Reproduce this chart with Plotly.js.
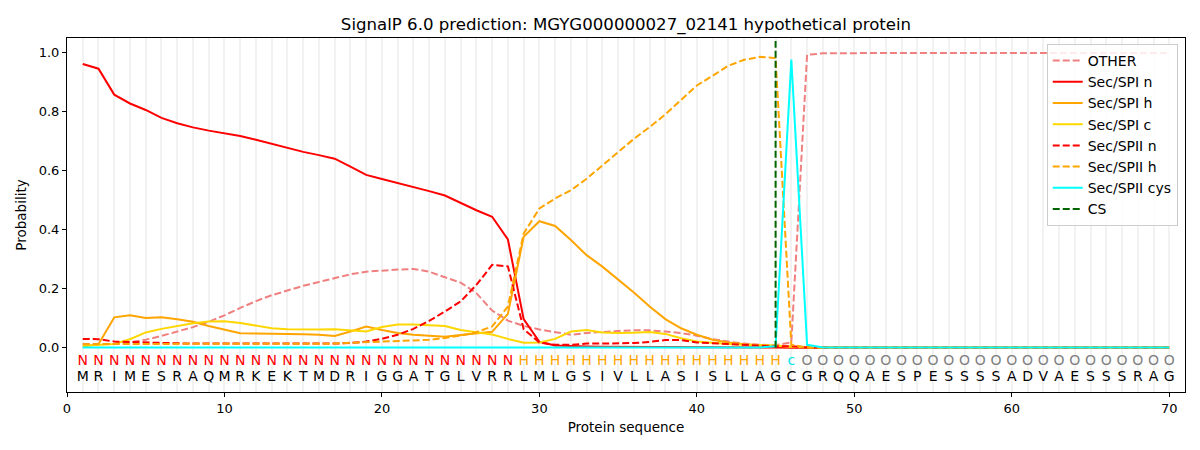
<!DOCTYPE html>
<html>
<head>
<meta charset="utf-8">
<script src="https://cdn.plot.ly/plotly-3.0.1.min.js"></script>
<style>html,body{margin:0;padding:0;background:#fff;}#chart{width:1200px;height:450px;}</style>
</head>
<body>
<div id="chart"></div>
<script>
const sequence = "MRIMESRAQMRKEKTMDRIGGATGLVRRLMLGSIVLLASISLLAGCGRQQAESPESSSSADVAESSSRAG".split("");
const regionLabels = ("NNNNNNNNNNNNNNNNNNNNNNNNNNNN" + "HHHHHHHHHHHHHHHHH" + "c" + "OOOOOOOOOOOOOOOOOOOOOOOO").split("");
const positions = sequence.map((_, i) => i + 1);

const other = [0.013,0.013,0.013,0.019,0.027,0.040,0.055,0.070,0.088,0.110,
  0.135,0.158,0.178,0.195,0.210,0.223,0.237,0.249,0.258,0.262,
  0.265,0.267,0.258,0.239,0.221,0.185,0.126,0.092,0.074,0.062,
  0.052,0.044,0.050,0.054,0.057,0.059,0.059,0.055,0.050,0.041,
  0.029,0.021,0.014,0.010,0.009,0.018,0.993,0.998,0.999,0.999,
  0.999,0.999,0.999,0.999,0.999,0.999,0.999,0.999,0.999,0.999,
  0.999,0.999,0.999,0.999,0.999,0.999,0.999,0.999,0.999,0.999];
const spiN = [0.962,0.946,0.858,0.828,0.806,0.779,0.761,0.747,0.736,0.727,
  0.718,0.705,0.691,0.678,0.664,0.653,0.641,0.614,0.586,0.572,
  0.559,0.545,0.531,0.516,0.491,0.466,0.444,0.367,0.097,0.020,
  0.008,0.005,0.004,0.003,0.003,0.003,0.002,0.002,0.002,0.002,
  0.001,0.001,0.001,0.001,0.001,0.000,0.000,0.000,0.000,0.000,
  0.000,0.000,0.000,0.000,0.000,0.000,0.000,0.000,0.000,0.000,
  0.000,0.000,0.000,0.000,0.000,0.000,0.000,0.000,0.000,0.000];
const spiH = [0.003,0.012,0.103,0.110,0.101,0.103,0.097,0.088,0.074,0.062,
  0.049,0.048,0.048,0.047,0.046,0.044,0.040,0.055,0.072,0.060,
  0.050,0.044,0.040,0.037,0.043,0.049,0.054,0.115,0.376,0.429,
  0.413,0.365,0.314,0.275,0.232,0.187,0.140,0.097,0.066,0.044,
  0.027,0.018,0.012,0.009,0.007,0.004,0.001,0.001,0.001,0.001,
  0.001,0.001,0.001,0.001,0.001,0.001,0.001,0.001,0.001,0.001,
  0.001,0.001,0.001,0.001,0.001,0.001,0.001,0.001,0.001,0.001];
const spiC = [0.007,0.010,0.013,0.029,0.052,0.064,0.074,0.083,0.089,0.090,
  0.084,0.074,0.066,0.063,0.062,0.062,0.063,0.058,0.055,0.070,
  0.079,0.079,0.077,0.074,0.060,0.053,0.045,0.030,0.017,0.018,
  0.030,0.055,0.060,0.052,0.050,0.051,0.053,0.047,0.032,0.021,
  0.016,0.013,0.010,0.009,0.008,0.003,0.001,0.001,0.001,0.001,
  0.001,0.001,0.001,0.001,0.001,0.001,0.001,0.001,0.001,0.001,
  0.001,0.001,0.001,0.001,0.001,0.001,0.001,0.001,0.001,0.001];
const spiiN = [0.030,0.029,0.021,0.019,0.018,0.016,0.015,0.014,0.014,0.013,
  0.013,0.013,0.013,0.013,0.013,0.013,0.014,0.016,0.021,0.030,
  0.044,0.064,0.091,0.123,0.157,0.213,0.281,0.276,0.063,0.018,
  0.010,0.010,0.014,0.014,0.014,0.016,0.020,0.026,0.026,0.018,
  0.015,0.012,0.009,0.006,0.005,0.005,0.001,0.001,0.001,0.001,
  0.001,0.001,0.001,0.001,0.001,0.001,0.001,0.001,0.001,0.001,
  0.001,0.001,0.001,0.001,0.001,0.001,0.001,0.001,0.001,0.001];
const spiiH = [0.012,0.013,0.013,0.013,0.013,0.013,0.013,0.013,0.013,0.013,
  0.013,0.013,0.013,0.013,0.013,0.013,0.014,0.017,0.019,0.021,
  0.023,0.024,0.027,0.033,0.041,0.053,0.072,0.140,0.387,0.472,
  0.506,0.534,0.573,0.618,0.663,0.708,0.748,0.791,0.840,0.889,
  0.922,0.956,0.976,0.986,0.982,0.010,0.001,0.001,0.001,0.001,
  0.001,0.001,0.001,0.001,0.001,0.001,0.001,0.001,0.001,0.001,
  0.001,0.001,0.001,0.001,0.001,0.001,0.001,0.001,0.001,0.001];
const spiiCys = [0.001,0.001,0.001,0.001,0.001,0.001,0.001,0.001,0.001,0.001,
  0.001,0.001,0.001,0.001,0.001,0.001,0.001,0.001,0.001,0.001,
  0.001,0.001,0.001,0.001,0.001,0.001,0.001,0.001,0.001,0.001,
  0.001,0.001,0.001,0.001,0.001,0.001,0.001,0.001,0.001,0.001,
  0.001,0.001,0.001,0.001,0.005,0.977,0.010,0.001,0.001,0.001,
  0.001,0.001,0.001,0.001,0.001,0.001,0.001,0.001,0.001,0.001,
  0.001,0.001,0.001,0.001,0.001,0.001,0.001,0.001,0.001,0.001];
const csPosition = 45;
const csExtent = [0, 1.04];

const labelColors = {N: '#ff0000', H: '#ffa500', c: '#00e5ee', O: '#808080'};
const DASH = '7px,3px';
const FONT = 'DejaVu Sans, sans-serif';

function line(name, y, color, dash) {
  return {x: positions, y: y, name: name, type: 'scatter', mode: 'lines',
    line: {color: color, width: 2, dash: dash || 'solid'}, hoverinfo: 'skip'};
}

const traces = [
  line('OTHER', other, '#f08080', DASH),
  line('Sec/SPI n', spiN, '#ff0000'),
  line('Sec/SPI h', spiH, '#ffa500'),
  line('Sec/SPI c', spiC, '#ffd700'),
  line('Sec/SPII n', spiiN, '#ff0000', DASH),
  line('Sec/SPII h', spiiH, '#ffa500', DASH),
  line('Sec/SPII cys', spiiCys, '#00ffff'),
  {x: [csPosition, csPosition], y: csExtent, name: 'CS', type: 'scatter', mode: 'lines',
    line: {color: '#006400', width: 2, dash: DASH}, hoverinfo: 'skip'},
  {x: positions, y: positions.map(() => -0.045), text: regionLabels, mode: 'text', type: 'scatter',
    textfont: {family: FONT, size: 14, color: regionLabels.map(l => labelColors[l])},
    showlegend: false, hoverinfo: 'skip', cliponaxis: false},
  {x: positions, y: positions.map(() => -0.1), text: sequence, mode: 'text', type: 'scatter',
    textfont: {family: FONT, size: 14, color: '#000000'},
    showlegend: false, hoverinfo: 'skip', cliponaxis: false}
];

const layout = {
  width: 1200, height: 450,
  margin: {l: 67, r: 15, t: 38, b: 58},
  paper_bgcolor: '#ffffff', plot_bgcolor: '#ffffff',
  font: {family: FONT, size: 13, color: '#000000'},
  title: {text: 'SignalP 6.0 prediction: MGYG000000027_02141 hypothetical protein',
    font: {family: FONT, size: 16.6, color: '#000000'},
    x: 0.5, xref: 'paper', xanchor: 'center', y: 0.946, yref: 'container', yanchor: 'middle'},
  xaxis: {range: [0, 71], tickmode: 'array', tickvals: [0,10,20,30,40,50,60,70],
    ticks: 'outside', ticklen: 4, tickcolor: '#000', showline: true, mirror: true,
    linecolor: '#000', linewidth: 1, zeroline: false,
    showgrid: true, gridcolor: '#f2f2f2', gridwidth: 2,
    minor: {tick0: 0, dtick: 1, showgrid: true, gridcolor: '#f2f2f2', gridwidth: 2, ticks: ''},
    title: {text: 'Protein sequence', font: {family: FONT, size: 13.5}, standoff: 7},
    tickfont: {family: FONT, size: 13}},
  yaxis: {range: [-0.15, 1.05], tickmode: 'array', tickvals: [0,0.2,0.4,0.6,0.8,1.0],
    ticktext: ['0.0','0.2','0.4','0.6','0.8','1.0'],
    ticks: 'outside', ticklen: 4, tickcolor: '#000', showline: true, mirror: true,
    linecolor: '#000', linewidth: 1, zeroline: false, showgrid: false,
    title: {text: 'Probability', font: {family: FONT, size: 13.5}, standoff: 8},
    tickfont: {family: FONT, size: 13}},
  legend: {x: 0.9935, xanchor: 'right', y: 0.983, yanchor: 'top',
    bgcolor: 'rgba(255,255,255,0.85)', bordercolor: '#cccccc', borderwidth: 1,
    font: {family: FONT, size: 14}, tracegroupgap: 0},
  showlegend: true
};

Plotly.newPlot('chart', traces, layout, {staticPlot: true, displayModeBar: false});
</script>
</body>
</html>
